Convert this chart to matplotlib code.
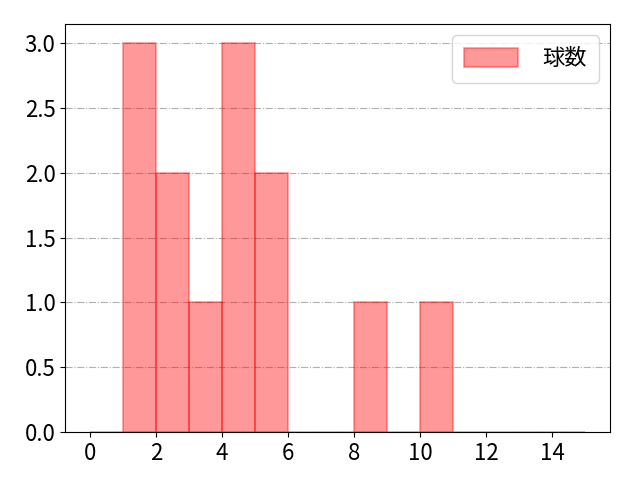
import numpy as np
import matplotlib
matplotlib.use("Agg")
import matplotlib.pyplot as plt

plt.rcParams['font.family'] = ['Noto Sans CJK JP', 'DejaVu Sans']
plt.rcParams['font.size'] = 16

# bin edges 0..15, count per bin
bin_edges = list(range(0, 16))
counts = [0, 3, 2, 1, 3, 2, 0, 0, 1, 0, 1, 0, 0, 0, 0]
label = '球数'

fig, ax = plt.subplots(figsize=(6.4, 4.8), dpi=100)
ax.hist(bin_edges[:-1], bins=bin_edges, weights=counts,
        color='red', edgecolor='red', alpha=0.4, linewidth=1.2, label=label)
ax.grid(axis='y', linestyle='-.', color='#b0b0b0', linewidth=0.8)
ax.set_axisbelow(True)
ax.set_xticks(range(0, 16, 2))
ax.legend(loc='upper right', handlelength=2.4, handleheight=0.9,
          handletextpad=1.1, borderpad=0.55)
fig.subplots_adjust(left=0.102, right=0.953, top=0.95, bottom=0.1)
fig.savefig('out.png')
